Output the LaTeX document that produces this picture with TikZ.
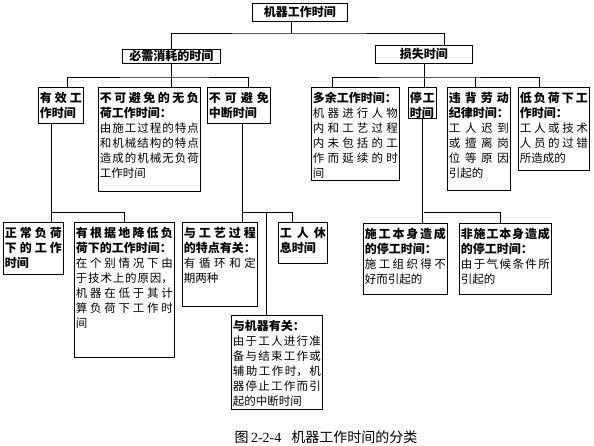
\documentclass[tikz,border=0pt]{standalone}
\usepackage{fontspec}
\setmainfont{Noto Sans CJK SC}
\newfontfamily\numfont{Liberation Serif}
\XeTeXlinebreaklocale "zh"
\XeTeXlinebreakskip=0pt plus 10pt
\setlength{\parindent}{0pt}
\newcommand{\hd}[1]{{\fontsize{12}{15}\selectfont\bfseries #1}}

\begin{document}
\begin{tikzpicture}[
    x=1pt, y=-1pt,
    box/.style={draw, anchor=north west, line width=0.8pt, inner xsep=1.5pt, inner ysep=2pt, text height=13pt, align=justify, font=\fontsize{11.5}{15}\selectfont},
    title/.style={draw, anchor=north west, line width=0.8pt, inner sep=0pt, align=center, font=\fontsize{12}{15}\selectfont\bfseries},
    line/.style={line width=0.8pt}
]
\useasboundingbox (0,0) rectangle (594,446);

% Nodes
\node (root) [title, minimum width=95pt, minimum height=18pt] at (252,3) {机器工作时间};
\node (need) [title, minimum width=98pt, minimum height=14pt] at (122,49) {必需消耗的时间};
\node (lost) [title, minimum width=97pt, minimum height=18pt] at (375,45) {损失时间};

\node (eff) [box, text width=42pt, text depth=19pt] at (38,87) {\hd{有效工\linebreak 作时间}};
\node (noload) [box, text width=99pt, text depth=87pt] at (98,87) {\hd{不可避免的无负\linebreak 荷工作时间：}\par 由施工过程的特点\linebreak 和机械结构的特点\linebreak 造成的机械无负荷\linebreak 工作时间};
\node (intr) [box, text width=60pt, text depth=19pt] at (207,87) {\hd{不可避免\linebreak 中断时间}};
\node (extra) [box, text width=85pt, text depth=76pt] at (311,87) {\hd{多余工作时间：}\par 机器进行人物\linebreak 内和工艺过程\linebreak 内未包括的工\linebreak 作而延续的时\linebreak 间};
\node (stop) [box, text width=25pt, text depth=14pt] at (408,87) {\hd{停工\linebreak 时间}};
\node (disc) [box, text width=60pt, text depth=86pt] at (447,87) {\hd{违背劳动\linebreak 纪律时间：}\par 工人迟到\linebreak 或擅离岗\linebreak 位等原因\linebreak 引起的};
\node (low) [box, text width=68pt, text depth=66pt] at (518,87) {\hd{低负荷下工\linebreak 作时间：}\par 工人或技术\linebreak 人员的过错\linebreak 所造成的};

\node (norm) [box, text width=57pt, text depth=35pt] at (3,222) {\hd{正常负荷\linebreak 下的工作\linebreak 时间}};
\node (reduce) [box, text width=97pt, text depth=118pt] at (74,222) {\hd{有根据地降低负\linebreak 荷下的工作时间：}\par 在个别情况下由\linebreak 于技术上的原因，\linebreak 机器在低于其计\linebreak 算负荷下工作时\linebreak 间};
\node (tech) [box, text width=72pt, text depth=67pt] at (182,222) {\hd{与工艺过程\linebreak 的特点有关：}\par 有循环和定\linebreak 期两种};
\node (rest) [box, text width=46pt, text depth=24pt] at (278,222) {\hd{工人休\linebreak 息时间}};
\node (mach) [box, text width=88pt, text depth=77pt] at (231,315) {\hd{与机器有关：}\par 由于工人进行准\linebreak 备与结束工作或\linebreak 辅助工作时，机\linebreak 器停止工作而引\linebreak 起的中断时间};
\node (self) [box, text width=81pt, text depth=54pt] at (363,223) {\hd{施工本身造成\linebreak 的停工时间：}\par 施工组织得不\linebreak 好而引起的};
\node (nonself) [box, text width=89pt, text depth=54pt] at (459,223) {\hd{非施工本身造成\linebreak 的停工时间：}\par 由于气候条件所\linebreak 引起的};

\node (cap) at (326,437) {\fontsize{14}{16}\selectfont 图\,{\numfont 2-2-4}\hspace{10pt}机器工作时间的分类};

% Lines
\coordinate (b0) at (291,33);
\coordinate (b1) at (171,77);
\coordinate (b2) at (423.5,77);
\coordinate (b3) at (51,212);
\coordinate (b4) at (242,212);
\coordinate (b5) at (423.5,212);

\draw [line] (b0 |- root.south) -- (b0);
\draw [line] (need.north) |- (b0) -| ([xshift=20.5pt]lost.north);

\draw [line] (need.south) -- (need.south |- noload.north);
\draw [line] ([xshift=6.5pt]eff.north) |- (b1) -| ([xshift=9.5pt]intr.north);

\draw [line] (lost.south) -- (lost.south |- stop.north);
\draw [line] ([xshift=-23pt]extra.north) |- (b2) -| ([xshift=-14.5pt]low.north);
\draw [line] ([xshift=-3.5pt]disc.north) -- ([xshift=-3.5pt]disc.north |- b2);

\draw [line] ([xshift=-9.5pt]eff.south) -- ([xshift=18pt]norm.north);
\draw [line] (b3) -| (reduce.north);

\draw [line] ([xshift=3.5pt]intr.south) -- ([xshift=22.5pt]tech.north);
\draw [line] (b4) -| ([xshift=-10.5pt]rest.north);
\draw [line] ([xshift=-10.5pt]mach.north) -- ([xshift=-10.5pt]mach.north |- b4);

\draw [line] (stop.south) -- (stop.south |- self.north);
\draw [line] (b5) -| ([xshift=-5pt]nonself.north);

\end{tikzpicture}
\end{document}
